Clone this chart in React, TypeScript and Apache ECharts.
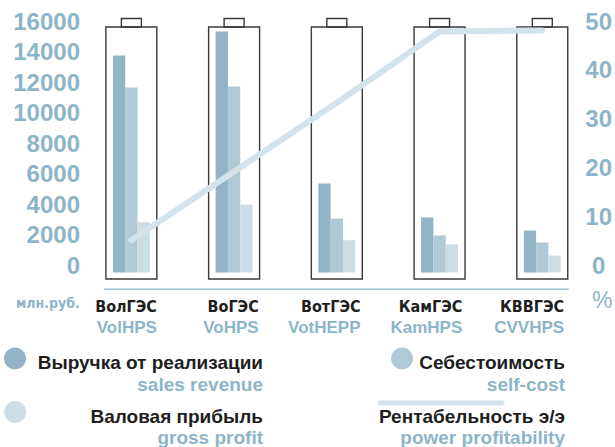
import React, { useEffect, useRef } from "react";
import * as echarts from "echarts";

const categoriesRu = ["ВолГЭС", "ВоГЭС", "ВотГЭС", "КамГЭС", "КВВГЭС"];
const categoriesEn = ["VolHPS", "VoHPS", "VotHEPP", "KamHPS", "CVVHPS"];
const revenue = [14230, 15800, 5840, 3610, 2750];
const selfCost = [12130, 12200, 3540, 2430, 1970];
const grossProfit = [3300, 4460, 2120, 1840, 1110];
const profitability = [6.6, 20.7, 34.8, 49.4, 49.6];

const leftTicks = { min: 0, max: 16000, interval: 2000 };
const rightTicks = { min: 0, max: 50, interval: 10 };

const legendRu = ["Выручка от реализации", "Себестоимость", "Валовая прибыль", "Рентабельность э/э"];
const legendEn = ["sales revenue", "self-cost", "gross profit", "power profitability"];
const unitLeft = "млн.руб.";
const unitRight = "%";

const C_REV = "#93b4c7";
const C_COST = "#afc9d7";
const C_PROFIT = "#cddde6";
const C_LINE = "#d3e2eb";
const C_TEXT_BLUE = "#8db5c9";
const FONT = "'Liberation Sans', Arial, sans-serif";
const FONT_NARROW = "'Liberation Sans Narrow', 'Arial Narrow', 'DejaVu Sans Condensed', sans-serif";

export default function App() {
  const ref = useRef<HTMLDivElement>(null);
  useEffect(() => {
    if (!ref.current) return;
    const chart = echarts.init(ref.current, undefined, { renderer: "svg" });
    const n = categoriesRu.length;
    const yLabel = {
      color: C_TEXT_BLUE,
      fontSize: 24,
      fontWeight: "bold" as const,
      fontFamily: FONT,
      verticalAlign: "bottom" as const,
      lineHeight: 15,
      formatter: (v: number) => String(v),
    };
    const textStyle = (fill: string) => ({ fill, font: "bold 19px " + FONT, align: "right", verticalAlign: "middle" });
    chart.setOption({
      animation: false,
      backgroundColor: "#ffffff",
      grid: [
        { left: 80, right: 20, top: 28.5, bottom: 174.5 },
        { left: 106, width: 515, top: 28.5, bottom: 174.5 },
      ],
      xAxis: [
        {
          type: "category",
          gridIndex: 0,
          data: categoriesRu,
          axisLine: { show: false },
          axisTick: { show: false },
          axisLabel: { show: false },
        },
        {
          type: "category",
          gridIndex: 1,
          data: categoriesRu.map((c, i) => c + "|" + categoriesEn[i]),
          axisLine: { show: false },
          axisTick: { show: false },
          axisLabel: {
            align: "right",
            margin: 24,
            interval: 0,
            formatter: (v: string) => {
              const [ru, en] = v.split("|");
              return "{ru|" + ru + "}\n{en|" + en + "}";
            },
            rich: {
              ru: { fontFamily: FONT_NARROW, fontWeight: "bold", fontSize: 16, color: "#1e1e1e", lineHeight: 20 },
              en: { fontFamily: FONT, fontWeight: "bold", fontSize: 17, color: C_TEXT_BLUE, lineHeight: 22 },
            },
          },
        },
      ],
      yAxis: [
        {
          type: "value",
          gridIndex: 0,
          ...leftTicks,
          position: "left",
          axisLine: { show: false },
          axisTick: { show: false },
          splitLine: { show: false },
          axisLabel: { ...yLabel, margin: 0 },
        },
        {
          type: "value",
          gridIndex: 0,
          ...rightTicks,
          position: "right",
          axisLine: { show: false },
          axisTick: { show: false },
          splitLine: { show: false },
          axisLabel: { ...yLabel, align: "center", margin: 5 },
        },
        { type: "value", gridIndex: 1, show: false },
      ],
      series: [
        {
          type: "custom",
          xAxisIndex: 0,
          yAxisIndex: 0,
          z: 1,
          silent: true,
          data: categoriesRu.map((_, i) => [i]),
          encode: { x: 0 },
          renderItem: (params: any, api: any) => {
            const idx = api.value(0);
            const [cx, y0] = api.coord([idx, 0]);
            const yTop = api.coord([idx, leftTicks.max])[1];
            const bw = api.size([1, 0])[0];
            const halfW = bw * 0.248;
            const top = yTop - 1.5;
            const bottom = y0 + 6.5;
            const capW = 20;
            const capH = 8.5;
            const stroke = { fill: "none", stroke: "#3a3a3a", lineWidth: 1.4 };
            const children: any[] = [
              { type: "rect", shape: { x: cx - halfW, y: top, width: 2 * halfW, height: bottom - top }, style: stroke },
              { type: "rect", shape: { x: cx - capW / 2, y: top - capH, width: capW, height: capH }, style: stroke },
            ];
            if (idx === 0) {
              children.push({
                type: "line",
                shape: { x1: cx - halfW - 2, y1: y0 + 16.8, x2: cx + (n - 1) * bw + halfW + 1, y2: y0 + 16.8 },
                style: { stroke: "#a3c3d3", lineWidth: 1.6 },
              });
            }
            return { type: "group", children };
          },
        },
        { type: "bar", name: "rev", data: revenue, barWidth: 12.3, barGap: "0%", itemStyle: { color: C_REV }, z: 2 },
        { type: "bar", name: "cost", data: selfCost, barWidth: 12.3, barGap: "0%", itemStyle: { color: C_COST }, z: 2 },
        { type: "bar", name: "profit", data: grossProfit, barWidth: 12.3, barGap: "0%", itemStyle: { color: C_PROFIT }, z: 2 },
        {
          type: "line",
          name: "profitability",
          yAxisIndex: 1,
          data: profitability,
          symbol: "none",
          z: 3,
          lineStyle: { color: C_LINE, width: 6, cap: "round", join: "round" },
        },
      ],
      graphic: [
        { type: "text", x: 16, y: 303, style: { text: unitLeft, fill: C_TEXT_BLUE, font: "bold 14px " + FONT_NARROW, verticalAlign: "middle" } },
        { type: "text", x: 592, y: 300, style: { text: unitRight, fill: C_TEXT_BLUE, font: "23px " + FONT, verticalAlign: "middle" } },
        { type: "circle", shape: { cx: 15, cy: 358.5, r: 11 }, style: { fill: C_REV } },
        { type: "circle", shape: { cx: 15, cy: 412, r: 11 }, style: { fill: C_PROFIT } },
        { type: "circle", shape: { cx: 402, cy: 358.5, r: 11 }, style: { fill: C_COST } },
        { type: "line", shape: { x1: 380, y1: 403, x2: 502, y2: 403 }, style: { stroke: C_LINE, lineWidth: 5, lineCap: "round" } },
        { type: "text", x: 263, y: 362, style: { text: legendRu[0], ...textStyle("#1e1e1e") } },
        { type: "text", x: 263, y: 384, style: { text: legendEn[0], ...textStyle(C_TEXT_BLUE) } },
        { type: "text", x: 565, y: 362, style: { text: legendRu[1], ...textStyle("#1e1e1e") } },
        { type: "text", x: 565, y: 384, style: { text: legendEn[1], ...textStyle(C_TEXT_BLUE) } },
        { type: "text", x: 263, y: 416, style: { text: legendRu[2], ...textStyle("#1e1e1e") } },
        { type: "text", x: 263, y: 437, style: { text: legendEn[2], ...textStyle(C_TEXT_BLUE) } },
        { type: "text", x: 565, y: 416, style: { text: legendRu[3], ...textStyle("#1e1e1e") } },
        { type: "text", x: 565, y: 437, style: { text: legendEn[3], ...textStyle(C_TEXT_BLUE) } },
      ],
    });
    return () => chart.dispose();
  }, []);
  return <div ref={ref} style={{ position: "absolute", left: 0, top: 0, width: 615, height: 447 }} />;
}
